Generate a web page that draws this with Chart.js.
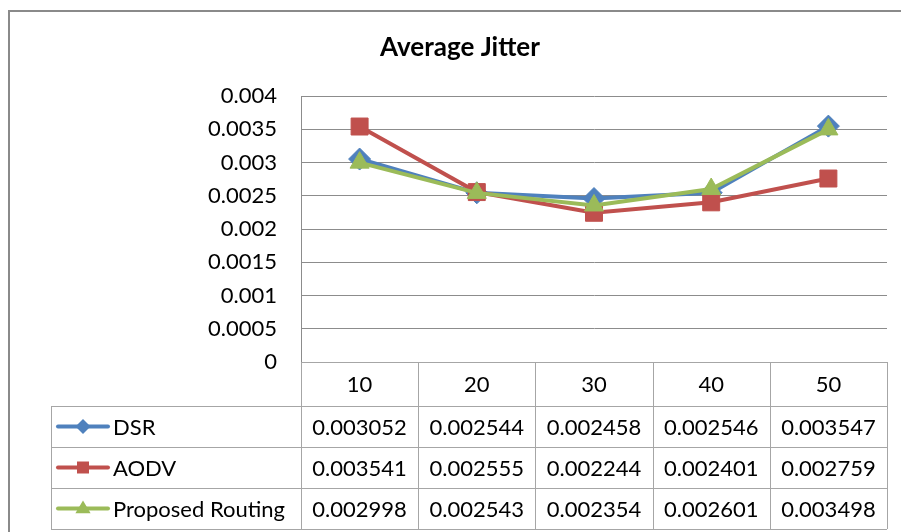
<!DOCTYPE html>
<html><head><meta charset="utf-8">
<script src="https://cdn.jsdelivr.net/npm/chart.js@4.4.1/dist/chart.umd.min.js"></script>
<style>html,body{margin:0;padding:0;background:#fff}canvas{display:block}</style>
</head><body>
<canvas id="c" width="901" height="532"></canvas>
<script>
const titleText = 'Average Jitter';
const categories = ['10', '20', '30', '40', '50'];
const seriesNames = ['DSR', 'AODV', 'Proposed Routing'];
const dsrValues = [0.003052, 0.002544, 0.002458, 0.002546, 0.003547];
const aodvValues = [0.003541, 0.002555, 0.002244, 0.002401, 0.002759];
const proposedValues = [0.002998, 0.002543, 0.002354, 0.002601, 0.003498];
const yTickLabels = ['0', '0.0005', '0.001', '0.0015', '0.002', '0.0025', '0.003', '0.0035', '0.004'];

const colors = ['#4F81BD', '#C0504D', '#9BBB59'];
const styles = ['rectRot', 'rect', 'triangle'];
const seriesValues = [dsrValues, aodvValues, proposedValues];
const FONT = 'Lato, "Open Sans", sans-serif';

function drawMarker(ctx, style, x, y, s, color) {
  ctx.save();
  ctx.fillStyle = color;
  ctx.beginPath();
  if (style === 'rectRot') {
    ctx.moveTo(x, y - s); ctx.lineTo(x + s, y); ctx.lineTo(x, y + s); ctx.lineTo(x - s, y);
  } else if (style === 'rect') {
    ctx.rect(x - s * 0.8, y - s * 0.8, s * 1.6, s * 1.6);
  } else {
    ctx.moveTo(x, y - s); ctx.lineTo(x + s * 0.95, y + s * 0.6); ctx.lineTo(x - s * 0.95, y + s * 0.6);
  }
  ctx.closePath();
  ctx.fill();
  ctx.restore();
}

const framePlugin = {
  id: 'frame',
  beforeDraw(chart) {
    const ctx = chart.ctx;
    ctx.save();
    ctx.fillStyle = '#fff';
    ctx.fillRect(0, 0, chart.width, chart.height);
    ctx.strokeStyle = '#8a8a8a';
    ctx.lineWidth = 2;
    ctx.strokeRect(9, 11, 1000, 1000);
    ctx.fillStyle = '#000';
    ctx.font = 'bold 26px ' + FONT;
    ctx.textAlign = 'center';
    ctx.textBaseline = 'middle';
    ctx.fillText(titleText, 460, 48);
    ctx.restore();
  },
  afterDraw(chart) {
    const ctx = chart.ctx;
    const area = chart.chartArea;
    const x = chart.scales.x;
    const colW = x.getPixelForValue(1) - x.getPixelForValue(0);
    const top = area.bottom;
    const headerH = 44, rowH = 41;
    const legendLeft = 51;
    const bottom = top + headerH + rowH * seriesNames.length;
    ctx.save();
    ctx.strokeStyle = '#a6a6a6';
    ctx.lineWidth = 1;
    ctx.beginPath();
    ctx.moveTo(area.left, Math.round(top) + 0.5); ctx.lineTo(area.right, Math.round(top) + 0.5);
    for (let r = 0; r <= seriesNames.length; r++) {
      const yy = Math.round(top + headerH + r * rowH) + 0.5;
      ctx.moveTo(legendLeft, yy); ctx.lineTo(area.right, yy);
    }
    for (let i = 0; i <= categories.length; i++) {
      const xx = Math.round(x.getPixelForValue(0) - colW / 2 + i * colW) + 0.5;
      ctx.moveTo(xx, top); ctx.lineTo(xx, bottom);
    }
    ctx.moveTo(legendLeft + 0.5, top + headerH); ctx.lineTo(legendLeft + 0.5, bottom);
    ctx.stroke();

    ctx.fillStyle = '#000';
    ctx.font = '22px ' + FONT;
    ctx.textBaseline = 'middle';
    ctx.textAlign = 'center';
    categories.forEach((c, i) => {
      ctx.fillText(c, x.getPixelForValue(i), top + headerH / 2 + 1);
    });
    seriesNames.forEach((name, r) => {
      const cy = top + headerH + r * rowH + rowH / 2 + 1;
      ctx.textAlign = 'center';
      seriesValues[r].forEach((v, i) => {
        ctx.fillText(v.toFixed(6), x.getPixelForValue(i), cy);
      });
      ctx.save();
      ctx.strokeStyle = colors[r];
      ctx.lineWidth = 4;
      ctx.lineCap = 'round';
      ctx.beginPath();
      ctx.moveTo(58, cy - 1); ctx.lineTo(108, cy - 1);
      ctx.stroke();
      ctx.restore();
      drawMarker(ctx, styles[r], 83, cy - 1, r === 2 ? 8 : 7.5, colors[r]);
      ctx.textAlign = 'left';
      ctx.fillText(name, 113, cy);
    });
    ctx.restore();
  }
};

new Chart(document.getElementById('c'), {
  type: 'line',
  data: {
    labels: categories,
    datasets: seriesNames.map((name, i) => ({
      label: name,
      data: seriesValues[i],
      borderColor: colors[i],
      backgroundColor: colors[i],
      borderWidth: 4,
      pointStyle: styles[i],
      pointRadius: i === 1 ? 12 : 11,
      pointBorderWidth: 1,
      pointBorderColor: colors[i],
      pointBackgroundColor: colors[i],
      tension: 0,
      order: 2 - i
    }))
  },
  options: {
    responsive: false,
    animation: false,
    events: [],
    layout: { padding: { top: 96, bottom: 170, right: 14, left: 0 } },
    plugins: { legend: { display: false }, title: { display: false }, tooltip: { enabled: false } },
    scales: {
      x: { display: false, offset: true },
      y: {
        min: 0, max: 0.004,
        afterFit(scale) { scale.width = 301; },
        ticks: {
          stepSize: 0.0005,
          padding: 24,
          color: '#000',
          font: { family: FONT, size: 22 },
          callback: (v, idx) => yTickLabels[idx]
        },
        grid: { color: '#8c8c8c', lineWidth: 1, drawTicks: false },
        border: { display: true, color: '#8c8c8c', width: 1 }
      }
    }
  },
  plugins: [framePlugin]
});
</script>
</body></html>
